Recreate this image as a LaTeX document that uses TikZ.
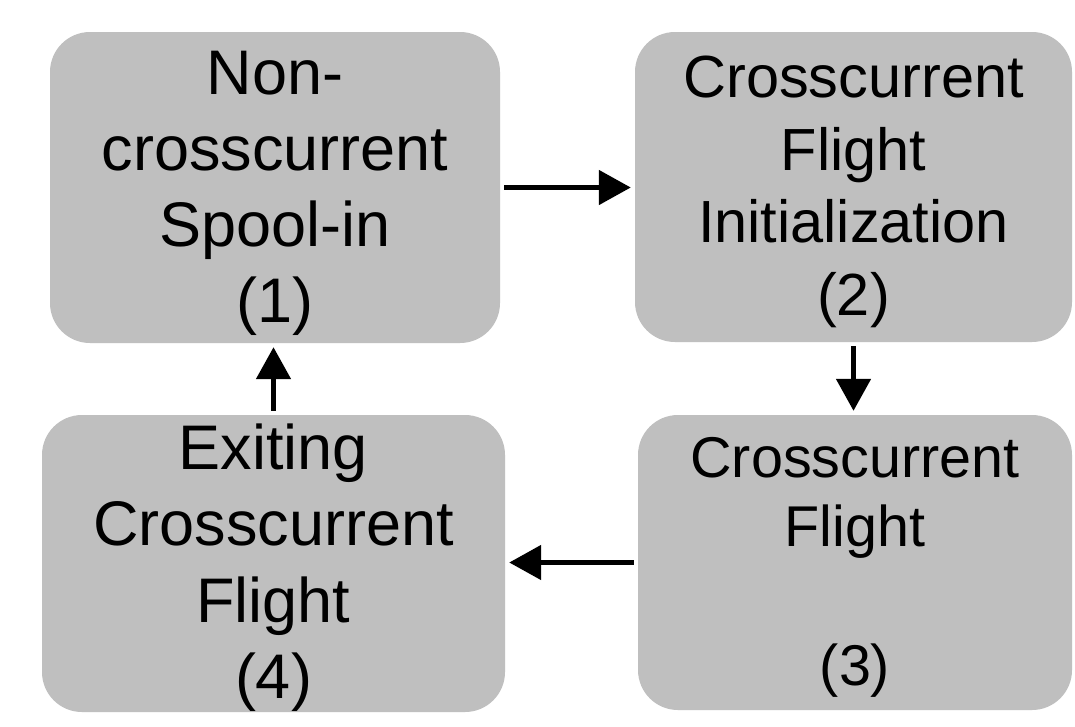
\documentclass[tikz,border=0pt]{standalone}
\usepackage{fontspec}
\setmainfont{Liberation Sans}
\usetikzlibrary{arrows.meta}
\definecolor{boxgray}{RGB}{191,191,191}
% extra room above the first line, so the text block sits a little lower
\newcommand{\firstline}{\rule{0pt}{0.86em}}
\tikzset{
  stage/.style={rectangle, rounded corners=40pt, fill=boxgray, draw=none,
    inner sep=0pt, align=center, text=black},
  flow/.style={line width=5pt, -{Triangle[length=32pt,width=34pt]},
    shorten >=4pt, shorten <=4pt}
}
\begin{document}
\begin{tikzpicture}[x=1pt,y=-1pt]
  \useasboundingbox[fill=white] (0,0) rectangle (1075,726);

  \node[stage, minimum width=450pt, minimum height=311pt,
        font=\fontsize{63}{76}\selectfont] (s1) at (275,187.5)
        {\firstline Non-\\crosscurrent\\Spool-in\\(1)};
  \node[stage, minimum width=437pt, minimum height=310pt,
        font=\fontsize{59.5}{72.5}\selectfont] (s2) at (853.5,187)
        {\firstline Crosscurrent\\Flight\\Initialization\\(2)};
  \node[stage, minimum width=434pt, minimum height=295pt,
        font=\fontsize{57.5}{69.5}\selectfont] (s3) at (855,562.5)
        {\firstline Crosscurrent\\Flight\\\strut\\(3)};
  \node[stage, minimum width=463pt, minimum height=297pt,
        font=\fontsize{63}{76.5}\selectfont] (s4) at (273.5,563.5)
        {\firstline Exiting\\Crosscurrent\\Flight\\(4)};

  \draw[flow] (s1.east) -- (s1.east -| s2.west);
  \draw[flow] (s2.south) -- (s2.south |- s3.north);
  \draw[flow] (s3.west) -- (s3.west -| s4.east);
  \draw[flow] (s4.north) -- (s4.north |- s1.south);
\end{tikzpicture}
\end{document}
